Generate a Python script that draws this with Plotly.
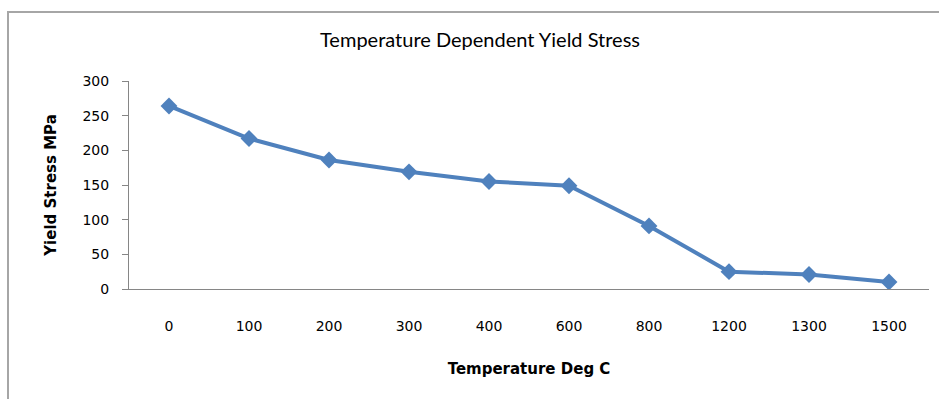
import plotly.graph_objects as go

categories = ["0", "100", "200", "300", "400", "600", "800", "1200", "1300", "1500"]
yield_stress = [264, 217, 186, 169, 155, 149, 91, 25, 21, 10]
y_ticks = [0, 50, 100, 150, 200, 250, 300]

W, H = 939, 399
L, R, T, B = 129, 10, 81, 110
pw, ph = W - L - R, H - T - B

def px_x(p):
    return (p - L) / pw

def px_y(p):
    return (H - B - p) / ph

fig = go.Figure()
fig.add_trace(go.Scatter(
    x=categories, y=yield_stress, mode="lines+markers",
    line=dict(color="#4F81BD", width=4),
    marker=dict(symbol="diamond", size=13, color="#4F81BD"),
    showlegend=False,
))

tick_font = dict(family="DejaVu Sans", size=14, color="#000000")
title_font = dict(family="DejaVu Sans", size=15, color="#000000")

fig.update_layout(
    width=W, height=H,
    margin=dict(l=L, r=R, t=T, b=B),
    paper_bgcolor="white", plot_bgcolor="white",
    title=dict(text="Temperature Dependent Yield Stress", x=480 / W, xanchor="center",
               y=1 - 40 / H, yanchor="middle",
               font=dict(family="Lato", size=20, color="#000000")),
    xaxis=dict(type="category", showgrid=False, showline=True, linecolor="#868686", linewidth=1,
               ticks="", ticklabelstandoff=24, tickfont=tick_font,
               title=dict(text="<b>Temperature Deg C</b>", standoff=30, font=title_font),
               range=[-0.5, 9.5]),
    yaxis=dict(range=[0, 300], tickvals=y_ticks, showgrid=False, showline=True,
               linecolor="#868686", linewidth=1, ticks="outside", ticklen=6, tickcolor="#868686",
               ticklabelstandoff=10, tickfont=tick_font,
               title=dict(text="<b>Yield Stress MPa</b>", standoff=22, font=title_font),
               zeroline=False),
    shapes=[dict(type="rect", xref="paper", yref="paper",
                 x0=px_x(8), x1=px_x(960), y0=px_y(420), y1=px_y(12),
                 line=dict(color="#A6A6A6", width=2), fillcolor="rgba(0,0,0,0)", layer="below")],
)

fig.write_html("out.html")
